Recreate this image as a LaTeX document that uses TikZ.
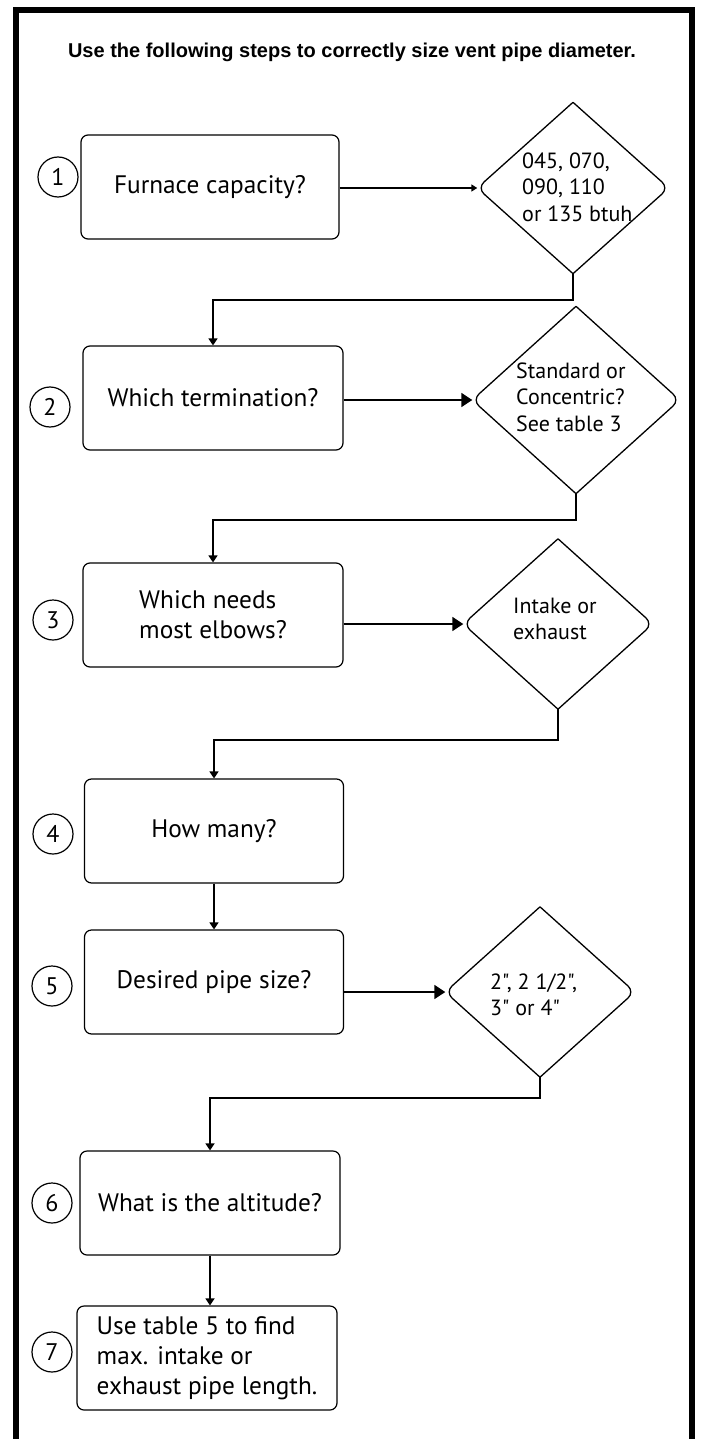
\documentclass[tikz,border=0pt]{standalone}
\usepackage{fontspec}
\setmainfont{PT Sans}[Ligatures=TeXOff]
\newfontfamily\titlefont{Liberation Sans}
\usetikzlibrary{positioning}
\usetikzlibrary{calc}
\usetikzlibrary{arrows.meta}
\usetikzlibrary{shapes.geometric}

\tikzset{
  stepbox/.style={draw, line width=1.2pt, rounded corners=7pt, minimum width=258pt,
    minimum height=104pt, inner sep=0pt, align=left, font=\fontsize{25.3}{30}\selectfont},
  stepnum/.style={draw, circle, line width=1.2pt, minimum size=40pt, inner sep=0pt,
    font=\fontsize{24}{24}\selectfont},
  choice/.style={diamond, minimum width=189pt, minimum height=170pt, inner sep=0pt},
  choiceline/.style={line width=1.3pt, rounded corners=9pt},
  choicetext/.style={anchor=west, align=left, inner sep=0pt, font=\fontsize{22}{26.5}\selectfont},
  flow/.style={line width=1.6pt, -{Triangle[length=7pt,width=9pt]}},
  bigflow/.style={line width=1.8pt, -{Triangle[length=11pt,width=14pt]}},
  smallflow/.style={line width=1.6pt, -{Triangle[length=6pt,width=7pt]}}
}

\begin{document}
\begin{tikzpicture}[x=1pt, y=-1pt]
    \useasboundingbox (0,0) rectangle (701,1439);

    % outer frame
    \draw[line width=6pt] (16,1439) -- (16,10) -- (692,10) -- (692,1439);

    % title
    \node (title) at (352,52) {\titlefont\bfseries\fontsize{20}{24}\selectfont Use the following steps to correctly size vent pipe diameter.};

    % step boxes
    \node[stepbox, minimum width=258pt] (b1) at (210,187) {Furnace capacity?};
    \node[stepbox, minimum width=260pt] (b2) at (213,398) {Which termination?};
    \node[stepbox, minimum width=260pt] (b3) at (213,615) {Which needs\\most elbows?};
    \node[stepbox, minimum width=259pt] (b4) at (214,831) {How many?};
    \node[stepbox, minimum width=259pt] (b5) at (214,982) {Desired pipe size?};
    \node[stepbox, minimum width=260pt] (b6) at (210,1203) {What is the altitude?};
    \node[stepbox, minimum width=260pt] (b7) at (207,1358) {Use table 5 to find\\max. intake or\\exhaust pipe length.};

    % step numbers
    \node[stepnum] (n1) at (58,177) {1};
    \node[stepnum] (n2) at (50,407) {2};
    \node[stepnum] (n3) at (53,620) {3};
    \node[stepnum] (n4) at (53,834) {4};
    \node[stepnum] (n5) at (52,986) {5};
    \node[stepnum] (n6) at (52,1203) {6};
    \node[stepnum] (n7) at (52,1352) {7};

    % choices
    \node[choice, minimum width=191pt, minimum height=171pt] (d1) at (573,188) {};
    \node[choice, minimum width=207pt, minimum height=187pt] (d2) at (576,400) {};
    \node[choice] (d3) at (558,624) {};
    \node[choice] (d5) at (540,992) {};
    \foreach \d in {d1,d2,d3,d5} {
      \draw[choiceline] (\d.north) -- (\d.east) -- (\d.south);
      \draw[choiceline] (\d.south) -- (\d.west) -- (\d.north);
    }
    \node[choicetext] (t1) at ($(d1.center)+(-51,-1)$) {045, 070,\\090, 110\\or 135 btuh};
    \node[choicetext] (t2) at ($(d2.center)+(-60,-3)$) {Standard or\\Concentric?\\See table 3};
    \node[choicetext] (t3) at ($(d3.center)+(-45,-5)$) {Intake or\\exhaust};
    \node[choicetext] (t5) at ($(d5.center)+(-50,3)$) {2", 2 1/2",\\3" or 4"};

    % box to choice
    \draw[smallflow] (b1.east |- d1.west) -- (d1.west);
    \draw[bigflow] (b2.east |- d2.west) -- (d2.west);
    \draw[bigflow] (b3.east |- d3.west) -- (d3.west);
    \draw[bigflow] (b5.east |- d5.west) -- (d5.west);

    % choice to next box
    \draw[flow] (d1.south) -- ++(0,26) -| (b2.north);
    \draw[flow] (d2.south) -- ++(0,26) -| (b3.north);
    \draw[flow] (d3.south) -- ++(0,31) -| (b4.north);
    \draw[flow] (d5.south) -- ++(0,21) -| (b6.north);

    % box to box
    \draw[flow] (b4.south) -- (b5.north);
    \draw[flow] (b6.south) -- (b6.south |- b7.north);
\end{tikzpicture}
\end{document}
